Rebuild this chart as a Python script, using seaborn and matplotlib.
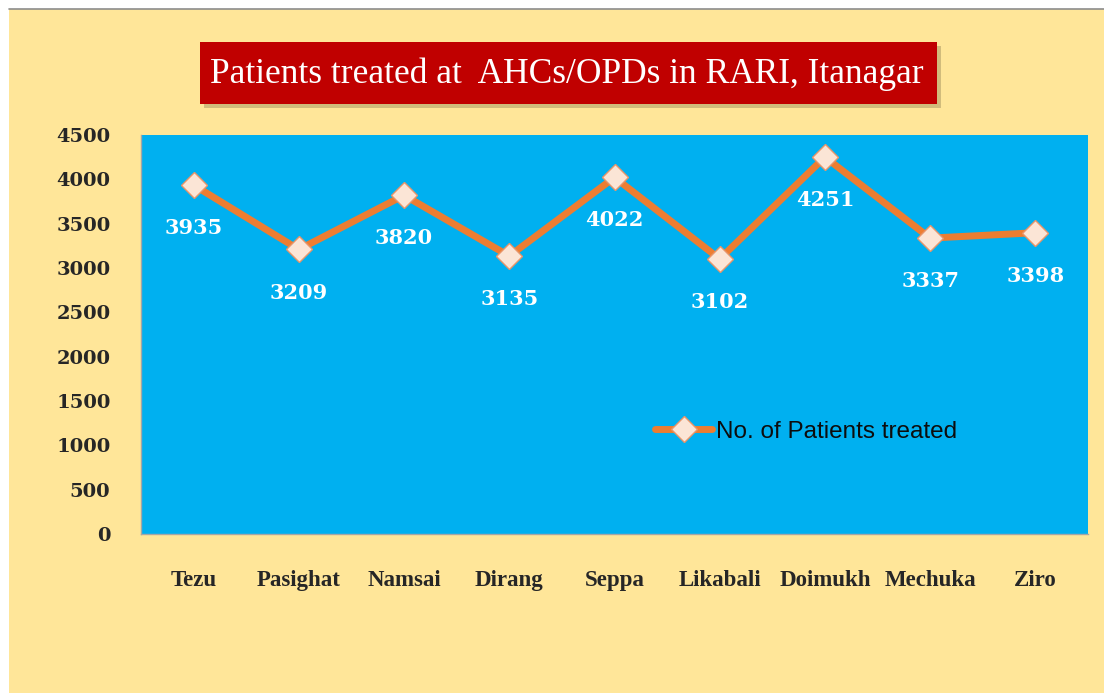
import matplotlib
matplotlib.use("Agg")
import matplotlib.pyplot as plt
from matplotlib.patches import Rectangle
import numpy as np
import pandas as pd
import seaborn as sns

# data
centres = ["Tezu", "Pasighat", "Namsai", "Dirang", "Seppa",
           "Likabali", "Doimukh", "Mechuka", "Ziro"]
patients = [3935, 3209, 3820, 3135, 4022, 3102, 4251, 3337, 3398]
y_ticks = [0, 500, 1000, 1500, 2000, 2500, 3000, 3500, 4000, 4500]
series_name = "No. of Patients treated"
title = "Patients treated at  AHCs/OPDs in RARI, Itanagar"

sns.set_style("white")
plt.rcParams["font.family"] = ["DejaVu Serif"]

df = pd.DataFrame({"centre": centres, "patients": patients})

W, H = 1104, 693
fig = plt.figure(figsize=(W / 100, H / 100), dpi=100, facecolor="white")

# slide background
fig.patches.append(Rectangle((9 / W, 0), 1 - 9 / W, 1 - 9 / H, transform=fig.transFigure,
                             facecolor="#FFE699", edgecolor="none", zorder=-5))
fig.add_artist(plt.Line2D([9 / W, 1], [1 - 8.5 / H] * 2, color="#8c8c8c", lw=1.2))

# title banner with a soft shadow
fig.patches.append(Rectangle((204 / W, 1 - 108 / H), 737 / W, 62 / H, transform=fig.transFigure,
                             facecolor="#9a8a5a", edgecolor="none", alpha=0.45, zorder=1))
fig.patches.append(Rectangle((200 / W, 1 - 104 / H), 737 / W, 62 / H, transform=fig.transFigure,
                             facecolor="#C00000", edgecolor="none", zorder=2))
fig.text(567 / W, 1 - 74 / H, title, color="white", fontsize=25.5, family="Liberation Serif",
         ha="center", va="center", zorder=3)

ax = fig.add_axes([141 / W, 1 - 534 / H, 947 / W, 399 / H])
ax.set_facecolor("#00B0F0")

sns.lineplot(data=df, x="centre", y="patients", ax=ax, sort=False, color="#ED7D31",
             lw=5, marker="D", markersize=13, markerfacecolor="#FBE5D6",
             markeredgecolor="#E8956A", markeredgewidth=1, label=series_name)

for i, v in enumerate(patients):
    ax.annotate(str(v), (i, v), xytext=(0, -31), textcoords="offset points",
                ha="center", va="center", color="white", fontsize=15, fontweight="bold")

ax.set_xlim(-0.5, len(centres) - 0.5)
ax.set_ylim(0, 4500)
ax.set_yticks(y_ticks)
ax.set_xticks(np.arange(-0.5, len(centres), 1), minor=True)
ax.set_xlabel("")
ax.set_ylabel("")

for side in ["top", "right"]:
    ax.spines[side].set_visible(False)
for side in ["left", "bottom"]:
    ax.spines[side].set_color("#a6a6a6")
    ax.spines[side].set_linewidth(1)

ax.tick_params(axis="x", which="major", length=0, pad=26)
ax.tick_params(axis="x", which="minor", length=10, color="#a6a6a6", width=1)
ax.tick_params(axis="y", length=6, color="#a6a6a6", width=1, pad=16)
for lab in ax.get_xticklabels():
    lab.set_family("Liberation Serif")
    lab.set_fontweight("bold")
    lab.set_fontsize(16.5)
for lab in ax.get_yticklabels():
    lab.set_fontweight("bold")
    lab.set_fontsize(14)

ax.legend(loc="center left", bbox_to_anchor=(0.543, 0.256), frameon=False,
          prop={"family": "Liberation Sans", "size": 17.5}, labelcolor="#0d0d0d",
          handlelength=2.35, handletextpad=0.15, borderpad=0, borderaxespad=0)

fig.savefig("out.png", dpi=100, facecolor=fig.get_facecolor())
